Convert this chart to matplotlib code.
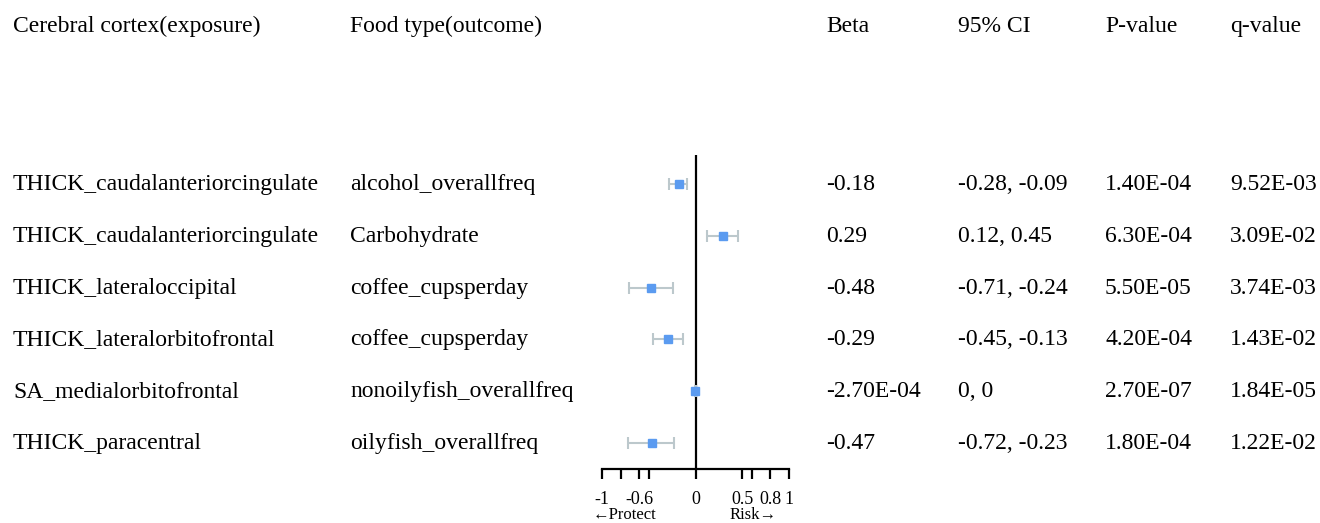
import matplotlib
matplotlib.use("Agg")
import matplotlib.pyplot as plt

exposures = ["THICK_caudalanteriorcingulate", "THICK_caudalanteriorcingulate",
             "THICK_lateraloccipital", "THICK_lateralorbitofrontal",
             "SA_medialorbitofrontal", "THICK_paracentral"]
outcomes = ["alcohol_overallfreq", "Carbohydrate", "coffee_cupsperday",
            "coffee_cupsperday", "nonoilyfish_overallfreq", "oilyfish_overallfreq"]
beta = [-0.18, 0.29, -0.48, -0.29, -2.70e-04, -0.47]
ci_low = [-0.28, 0.12, -0.71, -0.45, 0.0, -0.72]
ci_high = [-0.09, 0.45, -0.24, -0.13, 0.0, -0.23]
beta_txt = ["-0.18", "0.29", "-0.48", "-0.29", "-2.70E-04", "-0.47"]
ci_txt = ["-0.28, -0.09", "0.12, 0.45", "-0.71, -0.24", "-0.45, -0.13", "0, 0", "-0.72, -0.23"]
p_txt = ["1.40E-04", "6.30E-04", "5.50E-05", "4.20E-04", "2.70E-07", "1.80E-04"]
q_txt = ["9.52E-03", "3.09E-02", "3.74E-03", "1.43E-02", "1.84E-05", "1.22E-02"]
headers = ["Cerebral cortex(exposure)", "Food type(outcome)", "Beta", "95% CI", "P-value", "q-value"]
tick_vals = [-1, -0.8, -0.6, -0.5, 0, 0.5, 0.6, 0.8, 1]
tick_labels = ["-1", "", "-0.6", "", "0", "0.5", "", "0.8", "1"]

W, H = 1320, 523
plt.rcParams['font.family'] = ['Liberation Serif', 'DejaVu Serif']
fig = plt.figure(figsize=(W / 100, H / 100), dpi=100)

row_y0, row_dy = 184, 51.8
top_px, bot_px = 155, 469
ax_l, ax_r = 602, 789
ax = fig.add_axes([ax_l / W, 1 - bot_px / H, (ax_r - ax_l) / W, (bot_px - top_px) / H])
ax.set_xlim(-1, 1)
ax.set_ylim((bot_px - row_y0) / row_dy, (top_px - row_y0) / row_dy)
for s in ["top", "right", "left"]:
    ax.spines[s].set_visible(False)
ax.spines["bottom"].set_linewidth(1.6)
ax.set_yticks([])
ax.set_xticks(tick_vals)
ax.set_xticklabels(tick_labels, fontsize=13)
ax.tick_params(axis="x", direction="out", length=7, width=1.6, pad=9)
ax.axvline(0, color="black", lw=1.6)

ys = list(range(len(beta)))
xerr = [[max(b - l, 0) for b, l in zip(beta, ci_low)], [max(h - b, 0) for b, h in zip(beta, ci_high)]]
ax.errorbar(beta, ys, xerr=xerr,
            fmt="s", color="#5b9bf0", ecolor="#bcc8cc", elinewidth=1.5, capsize=4,
            capthick=1.5, markersize=5.5, zorder=3)

fs = 17
col_x = [13, 350, 826, 958, 1105, 1230]
for x, h in zip(col_x, headers):
    fig.text(x / W, 1 - 32 / H, h, fontsize=fs, va="baseline", ha="left")
for i in range(len(beta)):
    y = 1 - (row_y0 + 6 + row_dy * i) / H
    for x, t in zip(col_x, [exposures[i], outcomes[i], beta_txt[i], ci_txt[i], p_txt[i], q_txt[i]]):
        fig.text(x / W, y, t, fontsize=fs, va="baseline", ha="left")

fig.text(625 / W, 1 - 519 / H, "\u2190Protect", fontsize=12, va="baseline", ha="center")
fig.text(753 / W, 1 - 519 / H, "Risk\u2192", fontsize=12, va="baseline", ha="center")

fig.savefig("out.png", dpi=100)
